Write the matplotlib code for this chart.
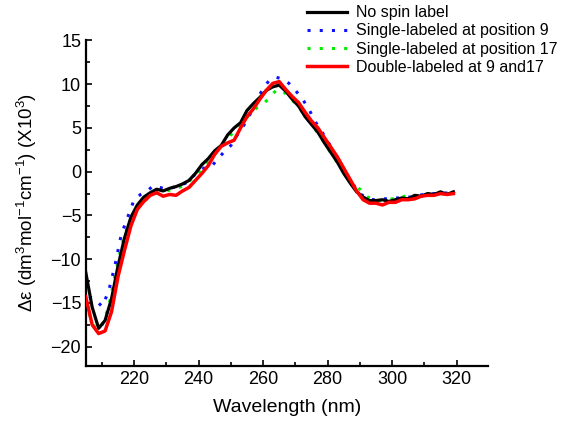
import numpy as np
import matplotlib
matplotlib.use("Agg")
import matplotlib.pyplot as plt
from matplotlib.ticker import MultipleLocator

plt.rcParams['font.family'] = ['Liberation Sans', 'DejaVu Sans']
plt.rcParams['mathtext.fontset'] = 'custom'
plt.rcParams['mathtext.rm'] = 'Liberation Sans'
plt.rcParams['mathtext.default'] = 'regular'

# wavelength grids (nm)
wl_odd = np.arange(205, 320, 2)     # black / red traces
wl_even = np.arange(206, 321, 2)    # dotted traces

no_label = [-11.5, -15.5, -17.9, -17.0, -14.5, -10.8, -7.6, -5.2, -3.8, -2.9,
            -2.4, -2.0, -2.2, -1.9, -1.7, -1.4, -1.0, -0.2, 0.8, 1.5,
            2.4, 3.0, 4.2, 5.0, 5.6, 7.0, 7.8, 8.5, 9.3, 9.7,
            9.9, 9.2, 8.3, 7.5, 6.3, 5.4, 4.5, 3.3, 2.2, 1.1,
            -0.2, -1.3, -2.3, -2.9, -3.3, -3.3, -3.2, -3.4, -3.2, -3.0,
            -3.1, -2.7, -2.8, -2.5, -2.6, -2.3, -2.6, -2.3]

double_9_17 = [-14.3, -17.5, -18.5, -18.2, -16.0, -12.0, -9.0, -6.2, -4.3, -3.4,
               -2.7, -2.4, -2.8, -2.6, -2.7, -2.2, -1.8, -1.0, -0.2, 0.7,
               2.0, 2.9, 3.3, 3.6, 5.0, 6.3, 7.2, 8.3, 9.3, 10.1,
               10.3, 9.4, 8.6, 7.9, 6.8, 5.8, 5.0, 3.9, 2.8, 1.7,
               0.4, -0.9, -2.2, -3.2, -3.6, -3.6, -3.8, -3.5, -3.5, -3.2,
               -3.2, -3.1, -2.8, -2.7, -2.7, -2.5, -2.6, -2.5]

single_9 = [-14.3, -14.6, -15.4, -13.8, -10.8, -7.2, -5.2, -3.2, -2.6, -2.2,
            -1.6, -1.8, -2.0, -1.8, -1.6, -1.3, -0.6, 0.0, 0.5, 0.6,
            1.5, 2.3, 3.0, 4.2, 5.3, 6.6, 8.2, 9.5, 10.5, 10.8,
            10.6, 10.1, 9.3, 8.4, 7.3, 5.8, 4.7, 3.5, 2.2, 0.9,
            -0.4, -1.5, -2.5, -3.0, -3.2, -3.1, -3.1, -3.0, -3.0, -2.9,
            -2.9, -2.7, -2.6, -2.5, -2.5, -2.4, -2.5, -2.5]

single_17 = [-16.2, -18.0, -17.6, -15.6, -12.0, -8.6, -6.2, -4.8, -3.8, -3.1,
             -2.6, -2.3, -2.2, -2.0, -1.8, -1.4, -0.8, -0.1, 0.8, 1.6,
             2.4, 3.3, 4.2, 5.0, 5.8, 6.6, 7.3, 7.7, 8.5, 9.3,
             9.3, 8.5, 7.8, 6.9, 5.9, 4.9, 3.9, 2.7, 1.6, 0.5,
             -0.6, -1.4, -2.0, -2.8, -3.2, -3.3, -3.2, -3.1, -3.0, -2.8,
             -2.8, -2.7, -2.6, -2.5, -2.5, -2.4, -2.4, -2.4]

fig = plt.figure(figsize=(5.7, 4.26), dpi=100)
ax = fig.add_axes([0.151, 0.141, 0.705, 0.765])

ax.plot(wl_even, single_17, color='#00ee00', lw=2.2, ls=(0, (1, 3)),
        label='Single-labeled at position 17', zorder=2)
ax.plot(wl_even, single_9, color='#1010ff', lw=2.2, ls=(0, (1, 3)),
        label='Single-labeled at position 9', zorder=3)
ax.plot(wl_odd, no_label, color='black', lw=2.3,
        label='No spin label', zorder=4)
ax.plot(wl_odd, double_9_17, color='#ff0000', lw=2.5,
        label='Double-labeled at 9 and17', zorder=5)

ax.set_xlim(205.1, 329.7)
ax.set_ylim(-22.2, 15.05)
ax.xaxis.set_major_locator(MultipleLocator(20))
ax.xaxis.set_minor_locator(MultipleLocator(10))
ax.yaxis.set_major_locator(MultipleLocator(5))
ax.yaxis.set_minor_locator(MultipleLocator(2.5))
ax.set_xticks(np.arange(220, 321, 20))
ax.tick_params(which='both', direction='in', labelsize=13, width=1.2)
ax.tick_params(which='major', length=4)
ax.tick_params(which='minor', length=3)

for side in ['top', 'right']:
    ax.spines[side].set_visible(False)
for side in ['left', 'bottom']:
    ax.spines[side].set_linewidth(1.6)

ax.set_xlabel('Wavelength (nm)', fontsize=14, labelpad=8)
ax.set_ylabel(r'$\Delta\varepsilon$ (dm$^3$mol$^{-1}$cm$^{-1}$) (X10$^3$)',
              fontsize=13.5, labelpad=8)

handles, labels = ax.get_legend_handles_labels()
order = [2, 1, 0, 3]
ax.legend([handles[i] for i in order], [labels[i] for i in order],
          loc='upper left', bbox_to_anchor=(0.538, 0.988),
          bbox_transform=fig.transFigure, frameon=False, fontsize=11.5,
          handlelength=2.5, handletextpad=0.6, labelspacing=0.2,
          borderpad=0, borderaxespad=0)

fig.savefig('out.png', dpi=100)
